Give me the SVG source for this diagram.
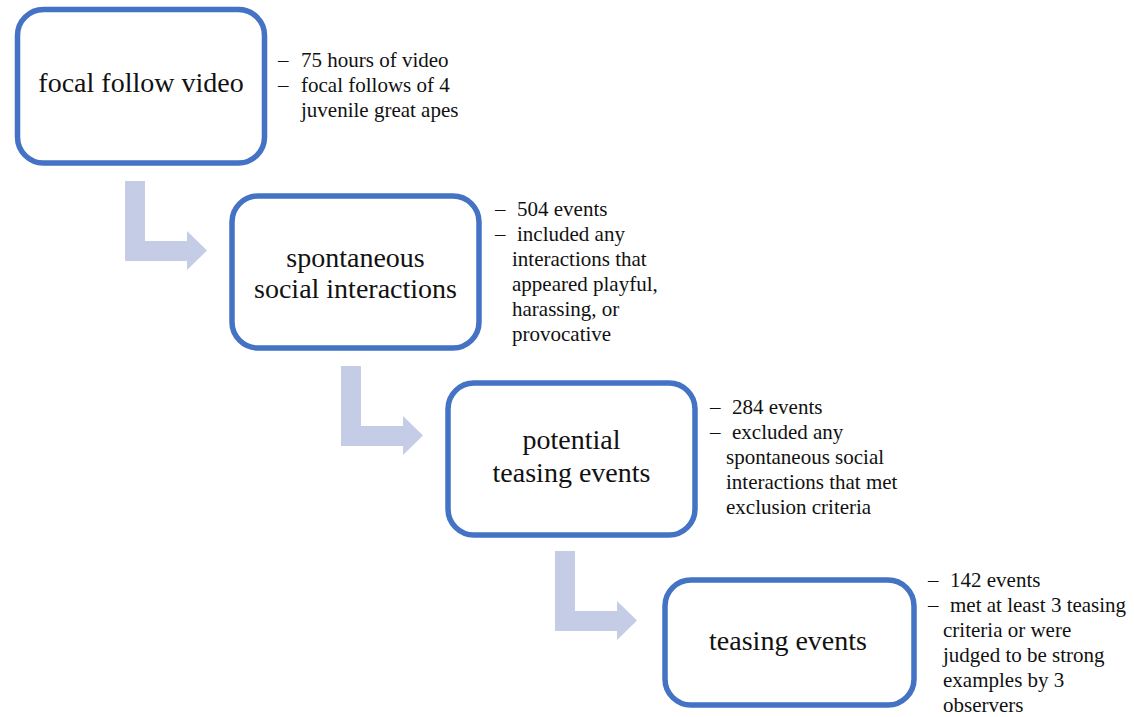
<svg xmlns="http://www.w3.org/2000/svg" width="1134" height="717" viewBox="0 0 1134 717">
  <defs>
    <style>
      .box { fill: #ffffff; stroke: #4472c4; stroke-width: 5.5; }
      .lbl { font-size: 28px; fill: #111111; text-anchor: middle; }
      .note { font-size: 21px; fill: #111111; }
      .arrow { fill: #c5cce6; }
    </style>
    <path id="bent" d="M0,0 H20 V60 H62 V50 L82,69.5 L62,89 V80 H0 Z"/>
  </defs>
  <rect width="1134" height="717" fill="#ffffff"/>

  <g id="connectors">
    <use href="#bent" class="arrow" transform="translate(125,181)"/>
    <use href="#bent" class="arrow" transform="translate(341,366)"/>
    <use href="#bent" class="arrow" transform="translate(555,551)"/>
  </g>

  <g font-family="Liberation Serif, Tinos, DejaVu Serif, serif">
  <g id="node-focal-follow-video">
    <rect class="box" x="17.5" y="9.5" width="247" height="153.5" rx="26"/>
    <text class="lbl" x="141" y="92">focal follow video</text>
    <text class="note" x="278" y="67">–</text>
    <text class="note" x="301" y="67">75 hours of video</text>
    <text class="note" x="278" y="92">–</text>
    <text class="note" x="301" y="92">focal follows of 4</text>
    <text class="note" x="301" y="117">juvenile great apes</text>
  </g>

  <g id="node-spontaneous-social-interactions">
    <rect class="box" x="232" y="196" width="247" height="152" rx="26"/>
    <text class="lbl" x="355.5" y="267">spontaneous</text>
    <text class="lbl" x="355.5" y="298">social interactions</text>
    <text class="note" x="495" y="216">–</text>
    <text class="note" x="517" y="216">504 events</text>
    <text class="note" x="495" y="241">–</text>
    <text class="note" x="517" y="241">included any</text>
    <text class="note" x="512" y="266">interactions that</text>
    <text class="note" x="512" y="291">appeared playful,</text>
    <text class="note" x="512" y="316">harassing, or</text>
    <text class="note" x="512" y="341">provocative</text>
  </g>

  <g id="node-potential-teasing-events">
    <rect class="box" x="448" y="383" width="247" height="152" rx="26"/>
    <text class="lbl" x="571.5" y="449">potential</text>
    <text class="lbl" x="571.5" y="482">teasing events</text>
    <text class="note" x="710" y="414">–</text>
    <text class="note" x="732" y="414">284 events</text>
    <text class="note" x="710" y="439">–</text>
    <text class="note" x="732" y="439">excluded any</text>
    <text class="note" x="726" y="464">spontaneous social</text>
    <text class="note" x="726" y="489">interactions that met</text>
    <text class="note" x="726" y="514">exclusion criteria</text>
  </g>

  <g id="node-teasing-events">
    <rect class="box" x="665" y="580" width="249" height="125" rx="26"/>
    <text class="lbl" x="788" y="650">teasing events</text>
    <text class="note" x="928" y="587">–</text>
    <text class="note" x="950" y="587">142 events</text>
    <text class="note" x="928" y="612">–</text>
    <text class="note" x="950" y="612">met at least 3 teasing</text>
    <text class="note" x="943" y="637">criteria or were</text>
    <text class="note" x="943" y="662">judged to be strong</text>
    <text class="note" x="943" y="687">examples by 3</text>
    <text class="note" x="943" y="712">observers</text>
  </g>
  </g>
</svg>
